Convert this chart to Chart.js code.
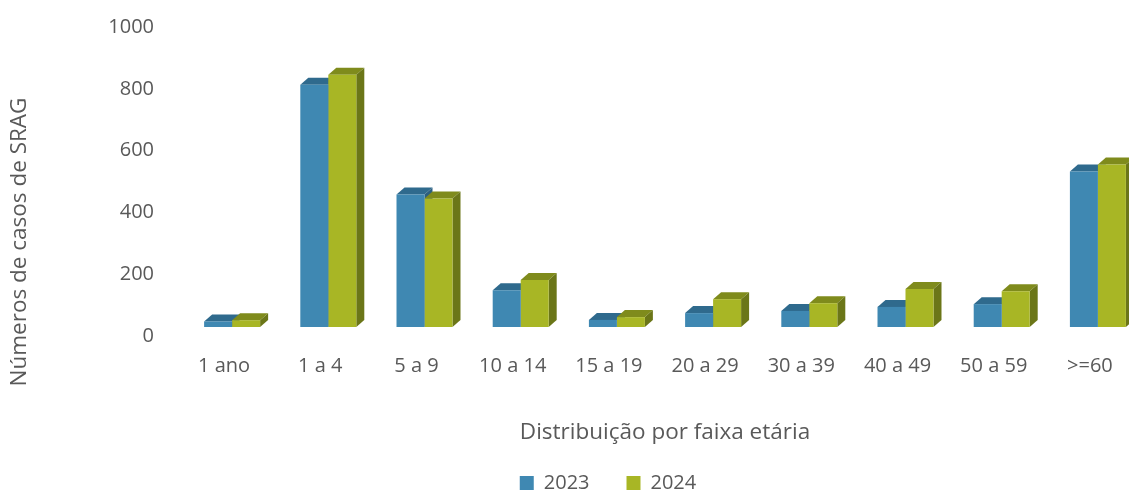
<!DOCTYPE html>
<html>
<head>
<meta charset="utf-8">
<script src="https://cdn.jsdelivr.net/npm/chart.js@4.4.1/dist/chart.umd.min.js"></script>
<style>
  html, body { margin: 0; padding: 0; background: #fff; overflow: hidden; }
  #wrap { width: 1150px; height: 492px; position: relative; }
</style>
</head>
<body>
<div id="wrap"><canvas id="barChart"></canvas></div>
<script>
// DATA - casos de SRAG por faixa etaria
const faixas = ["1 ano", "1 a 4", "5 a 9", "10 a 14", "15 a 19", "20 a 29", "30 a 39", "40 a 49", "50 a 59", ">=60"];
const casos2023 = [18, 784, 429, 119, 23, 45, 52, 65, 74, 503];
const casos2024 = [22, 816, 416, 152, 32, 90, 77, 123, 116, 526];
const yTicks = [0, 200, 400, 600, 800, 1000];

const textColor = "#595959";
const fontTicks = { family: "'Open Sans', sans-serif", size: 20 };
const fontTitle = { family: "'Open Sans', sans-serif", size: 22.5 };

// fake 3D: top and side faces drawn behind the fronts
const DX = 8;
const DY = 7;
const barras3d = {
  id: "barras3d",
  beforeDatasetsDraw(chart) {
    const ctx = chart.ctx;
    ctx.save();
    faixas.forEach((f, i) => {
      chart.data.datasets.forEach((ds, d) => {
        const bar = chart.getDatasetMeta(d).data[i];
        const l = bar.x - bar.width / 2;
        const r = bar.x + bar.width / 2;
        ctx.fillStyle = ds.topColor;
        ctx.beginPath();
        ctx.moveTo(l, bar.y);
        ctx.lineTo(l + DX, bar.y - DY);
        ctx.lineTo(r + DX, bar.y - DY);
        ctx.lineTo(r, bar.y);
        ctx.closePath();
        ctx.fill();
        ctx.fillStyle = ds.sideColor;
        ctx.beginPath();
        ctx.moveTo(r, bar.y);
        ctx.lineTo(r + DX, bar.y - DY);
        ctx.lineTo(r + DX, bar.base - DY);
        ctx.lineTo(r, bar.base);
        ctx.closePath();
        ctx.fill();
      });
    });
    ctx.restore();
  },
  afterDraw(chart) {
    // y title, centred like the original (not on the chart area)
    const ctx = chart.ctx;
    ctx.save();
    ctx.translate(20, 242);
    ctx.rotate(-Math.PI / 2);
    ctx.font = "22.5px 'Open Sans', sans-serif";
    ctx.fillStyle = textColor;
    ctx.textAlign = "center";
    ctx.textBaseline = "middle";
    ctx.fillText("Números de casos de SRAG", 0, 0);
    ctx.restore();
  }
};

var canvasBar = document.getElementById("barChart");
var barChart = new Chart(canvasBar, {
  type: "bar",
  data: {
    labels: faixas,
    datasets: [
      {
        label: "2023",
        data: casos2023,
        backgroundColor: "#3F88B2",
        topColor: "#2F6A8D",
        sideColor: "#2C5F80",
        borderWidth: 0,
        barPercentage: 1,
        categoryPercentage: 0.582,
      },
      {
        label: "2024",
        data: casos2024,
        backgroundColor: "#A8B625",
        topColor: "#7F8B1C",
        sideColor: "#6B7618",
        borderWidth: 0,
        barPercentage: 1,
        categoryPercentage: 0.582,
      },
    ],
  },
  options: {
    animation: false,
    responsive: true,
    maintainAspectRatio: false,
    layout: { padding: { left: 70, right: 4, top: 18, bottom: -11 } },
    plugins: {
      tooltip: { enabled: false },
      legend: {
        position: "bottom",
        labels: {
          boxWidth: 14,
          boxHeight: 14,
          padding: 37,
          color: textColor,
          font: fontTicks,
        },
      },
    },
    scales: {
      x: {
        grid: { display: false, drawTicks: false },
        border: { display: false },
        ticks: { color: textColor, font: fontTicks, padding: 27, labelOffset: -8, maxRotation: 0, autoSkip: false },
        title: {
          display: true,
          text: "Distribuição por faixa etária",
          color: textColor,
          font: fontTitle,
          padding: { top: 20, bottom: -10 },
        },
        afterFit: (scale) => {
          scale.height = 109;
        },
      },
      y: {
        min: 0,
        max: 1000,
        afterBuildTicks: (scale) => {
          scale.ticks = yTicks.map((v) => ({ value: v }));
        },
        afterFit: (scale) => {
          scale.width = 114;
          scale.paddingTop = 0;
          scale.paddingBottom = 0;
        },
        grid: { display: false, drawTicks: false },
        border: { display: false },
        ticks: { color: textColor, font: fontTicks, padding: 30, labelOffset: 9, callback: (v) => String(v) },
      },
    },
  },
  plugins: [barras3d],
});
</script>
</body>
</html>
